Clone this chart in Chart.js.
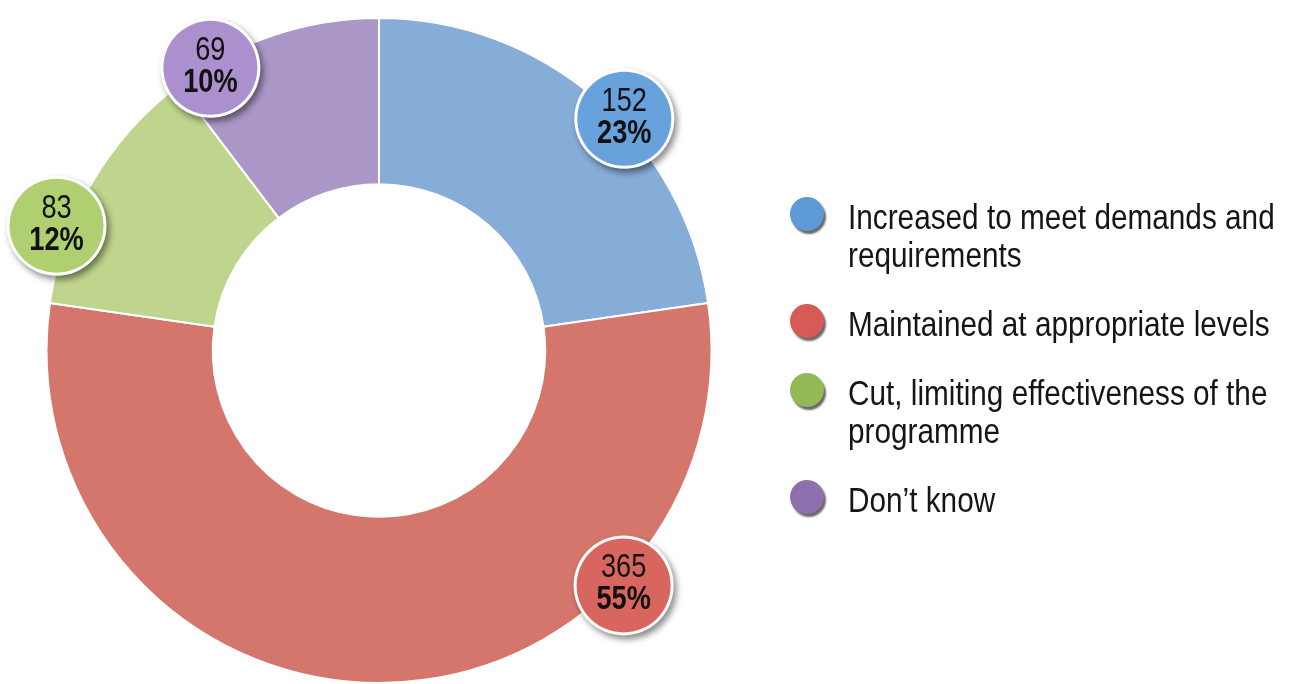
<!DOCTYPE html>
<html>
<head>
<meta charset="utf-8">
<script src="https://cdn.jsdelivr.net/npm/chart.js@4/dist/chart.umd.min.js"></script>
<style>
    html, body { margin: 0; padding: 0; background: #fff; overflow: hidden; }
    #wrap { position: relative; width: 1291px; height: 684px; }
    #donut { position: absolute; left: 0; top: 0; }
    #legend {
        position: absolute; left: 788px; top: 198px; width: 503px;
        font-family: "Liberation Sans", Arial, sans-serif;
        font-size: 35px; color: #151515; line-height: 38px;
    }
    .item { position: relative; padding-left: 60px; margin-bottom: 31px; }
    .line { display: block; white-space: nowrap; transform: scaleX(0.85); transform-origin: left center; }
    .dot {
        position: absolute; left: 2px; top: -1px; width: 34px; height: 34px; border-radius: 50%;
        box-shadow: 2px 3px 2px rgba(40, 40, 40, 0.7);
    }
</style>
</head>
<body>
<div id="wrap">
    <canvas id="donut" width="1291" height="684"></canvas>
    <div id="legend"></div>
</div>
<script>
// ---- data ----
var categories = [
    'Increased to meet demands and requirements',
    'Maintained at appropriate levels',
    'Cut, limiting effectiveness of the programme',
    'Don\u2019t know'
];
var counts = [152, 365, 83, 69];
var percents = ['23%', '55%', '12%', '10%'];

// ---- colours ----
var sliceColors = ['#86acd8', '#d5766c', '#bfd48c', '#aa97c7'];
var badgeColors = ['#67a2dc', '#d9665e', '#afcf70', '#ab90cd'];
var dotColors = ['#5d9bd6', '#d65a55', '#92b955', '#8e70ae'];

// where each badge sits: fraction along its slice, and distance vs outer radius
var badgePos = [
    { t: 0.57, r: 1.015 },
    { t: 0.265, r: 1.02 },
    { t: 0.29, r: 1.04 },
    { t: 0.17, r: 0.99 }
];

var FONT = '"Liberation Sans", Arial, sans-serif';

// ---- badge plugin ----
var badges = {
    id: 'badges',
    afterDatasetsDraw: function (chart) {
        var ctx = chart.ctx;
        var arcs = chart.getDatasetMeta(0).data;
        arcs.forEach(function (arc, i) {
            var p = badgePos[i];
            var a = arc.startAngle + (arc.endAngle - arc.startAngle) * p.t;
            var cx = arc.x + Math.cos(a) * arc.outerRadius * p.r;
            var cy = arc.y + Math.sin(a) * arc.outerRadius * p.r;
            var rad = 47;

            ctx.save();
            ctx.shadowColor = 'rgba(0, 0, 0, 0.45)';
            ctx.shadowBlur = 6;
            ctx.shadowOffsetX = 3;
            ctx.shadowOffsetY = 4;
            ctx.beginPath();
            ctx.arc(cx, cy, rad + 3, 0, Math.PI * 2);
            ctx.fillStyle = '#ffffff';
            ctx.fill();
            ctx.restore();

            ctx.save();
            ctx.beginPath();
            ctx.arc(cx, cy, rad, 0, Math.PI * 2);
            ctx.fillStyle = badgeColors[i];
            ctx.fill();

            // narrow the text like the condensed face of the original
            ctx.translate(cx, cy);
            ctx.scale(0.8, 1);
            ctx.fillStyle = '#111';
            ctx.textAlign = 'center';
            ctx.textBaseline = 'alphabetic';
            ctx.font = '34px ' + FONT;
            ctx.fillText(String(counts[i]), 0, -8);
            ctx.font = 'bold 34px ' + FONT;
            ctx.fillText(percents[i], 0, 24);
            ctx.restore();
        });
    }
};

new Chart(document.getElementById('donut'), {
    type: 'doughnut',
    data: {
        labels: categories,
        datasets: [{
            data: counts,
            backgroundColor: sliceColors,
            borderColor: '#ffffff',
            borderWidth: 2
        }]
    },
    options: {
        responsive: false,
        maintainAspectRatio: false,
        animation: false,
        cutout: '50%',
        layout: { padding: { left: 45, right: 578, top: 17, bottom: 0 } },
        plugins: {
            legend: { display: false },
            tooltip: { enabled: false }
        }
    },
    plugins: [badges]
});

// ---- html legend ----
var legend = document.getElementById('legend');
var legendLines = [
    ['Increased to meet demands and', 'requirements'],
    ['Maintained at appropriate levels'],
    ['Cut, limiting effectiveness of the', 'programme'],
    ['Don\u2019t know']
];
legendLines.forEach(function (lines, i) {
    var item = document.createElement('div');
    item.className = 'item';
    var dot = document.createElement('span');
    dot.className = 'dot';
    dot.style.background = dotColors[i];
    item.appendChild(dot);
    lines.forEach(function (t) {
        var ln = document.createElement('span');
        ln.className = 'line';
        ln.textContent = t;
        item.appendChild(ln);
    });
    legend.appendChild(item);
});
</script>
</body>
</html>
